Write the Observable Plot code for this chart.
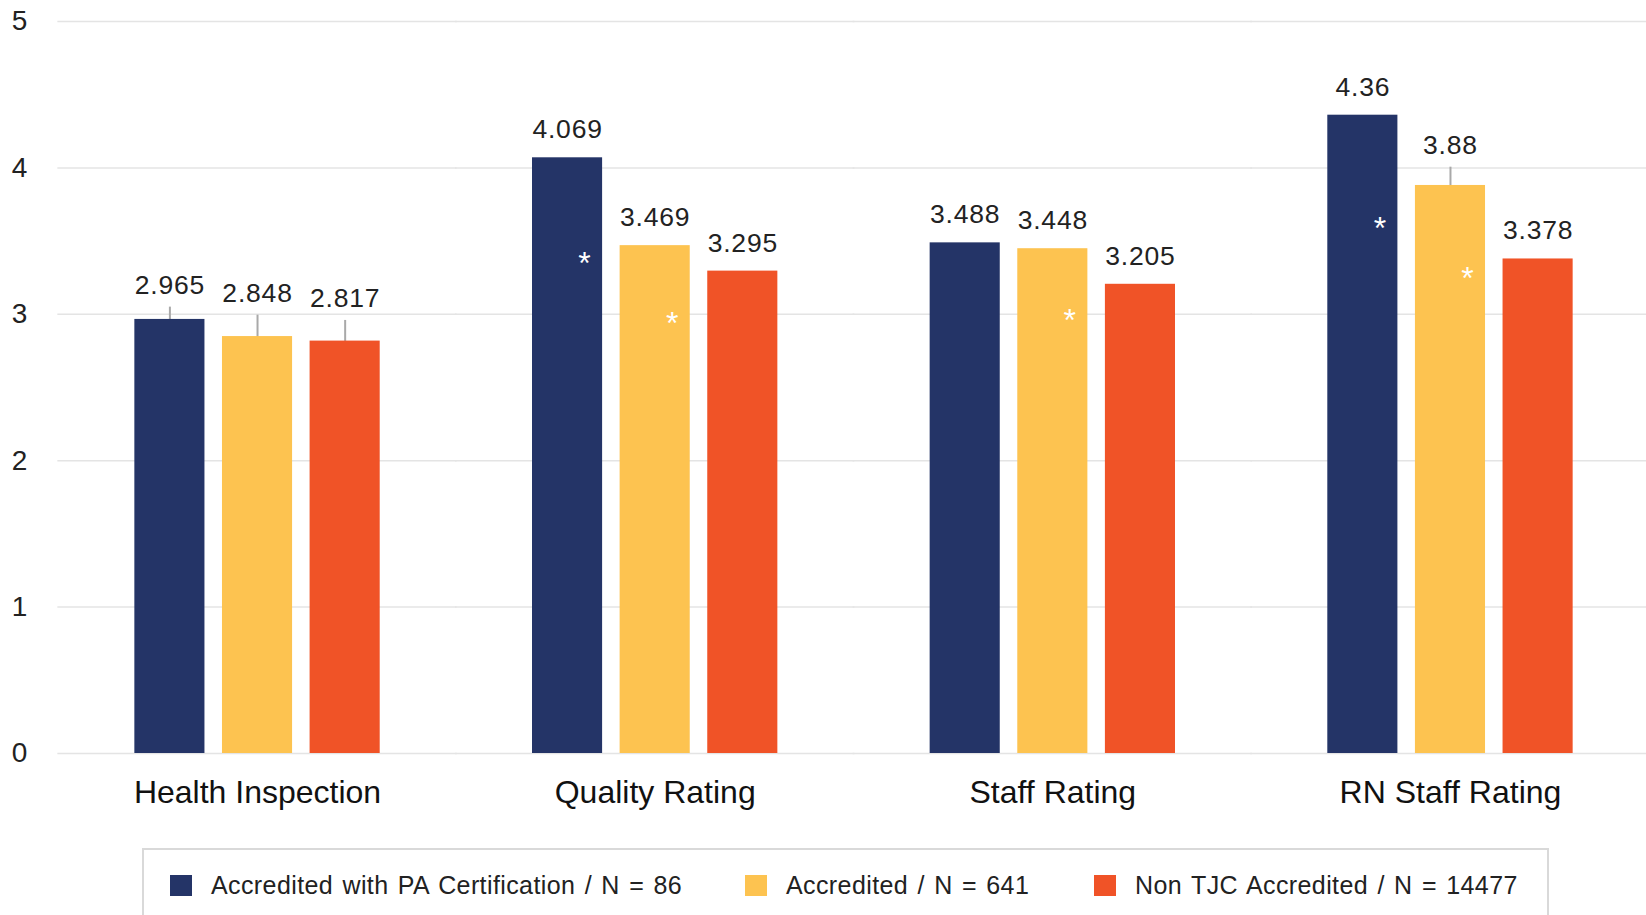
<!DOCTYPE html>
<html><head><meta charset="utf-8">
<script src="https://cdn.jsdelivr.net/npm/d3@7"></script>
<script src="https://cdn.jsdelivr.net/npm/@observablehq/plot@0.6"></script>
<style>
body{margin:0;background:#fff;font-family:"Liberation Sans",Arial,sans-serif;overflow:hidden;}
#chart{position:absolute;left:0;top:0;}
#legend{position:absolute;left:142px;top:848px;width:1407px;height:100px;border:2px solid #d9d9d9;box-sizing:border-box;}
.item{position:absolute;top:20px;height:30px;display:flex;align-items:center;font-size:25px;color:#222;letter-spacing:0.4px;word-spacing:2px;white-space:nowrap;}
.sw{width:22px;height:21px;margin-right:19px;flex:none;}
</style></head><body>
<div id="chart"></div>
<div id="legend"></div>
<script>
const categories = ["Health Inspection", "Quality Rating", "Staff Rating", "RN Staff Rating"];
const groups = ["Accredited with PA Certification / N = 86", "Accredited / N = 641", "Non TJC Accredited / N = 14477"];
const colors = ["#243467", "#fdc350", "#f05327"];
const paValues = [2.965, 4.069, 3.488, 4.36];
const accValues = [2.848, 3.469, 3.448, 3.88];
const nonValues = [2.817, 3.295, 3.205, 3.378];
const paErr = [0.084, 0, 0, 0];
const accErr = [0.146, 0, 0, 0.125];
const nonErr = [0.141, 0, 0, 0];
const paStar = [null, 3.38, null, 3.62];
const accStar = [null, 2.97, 2.99, 3.28];
const nonStar = [null, null, null, null];
const yTicks = [0, 1, 2, 3, 4, 5];

const values = [paValues, accValues, nonValues];
const errs = [paErr, accErr, nonErr];
const stars = [paStar, accStar, nonStar];
const rows = [];
categories.forEach((c, i) => groups.forEach((g, j) => rows.push({
  category: c, group: g, value: values[j][i], err: errs[j][i], star: stars[j][i]
})));
const errRows = rows.filter(d => d.err > 0);
const noErrRows = rows.filter(d => d.err === 0);
const starRows = rows.filter(d => d.star != null);

const textFont = "Liberation Sans, Arial, sans-serif";

const chart = Plot.plot({
  width: 1646, height: 830,
  marginLeft: 58, marginRight: -3, marginTop: 21, marginBottom: 77,
  style: {fontFamily: textFont, background: "#fff", color: "#222", overflow: "visible"},
  fx: {domain: categories, paddingInner: 0.383, paddingOuter: 0.192, round: false, axis: null, label: null},
  x: {domain: groups, paddingInner: 0.2, paddingOuter: 0, round: false, axis: null, label: null},
  y: {domain: [0, 5], axis: null, label: null},
  color: {domain: groups, range: colors},
  marks: [
    Plot.ruleY(yTicks, {y: d => d, stroke: "#e4e4e4", strokeWidth: 1.5, insetLeft: -77, insetRight: -77}),
    Plot.axisY({ticks: yTicks, tickSize: 0, tickPadding: 123, textAnchor: "start", fontSize: 28, fill: "#222", tickFormat: d => String(d), label: null}),
    Plot.axisFx({anchor: "bottom", tickSize: 0, tickPadding: 27, fontSize: 32, fill: "#111", label: null}),
    Plot.ruleX(errRows, {fx: "category", x: "group", y1: d => d.value - d.err, y2: d => d.value + d.err, stroke: "#a9a9a9", strokeWidth: 2}),
    Plot.barY(rows, {fx: "category", x: "group", y: "value", fill: "group"}),
    Plot.text(errRows, {fx: "category", x: "group", y: d => d.value + d.err, text: d => String(d.value), dy: -22, fontSize: 26.5, fill: "#222", lineAnchor: "middle"}),
    Plot.text(noErrRows, {fx: "category", x: "group", y: "value", text: d => String(d.value), dy: -28, fontSize: 26.5, fill: "#222", lineAnchor: "middle"}),
    Plot.text(starRows, {fx: "category", x: "group", y: "star", text: () => "*", dx: 17, dy: 5, fontSize: 32, fill: "#fff", lineAnchor: "middle"})
  ]
});
document.getElementById("chart").appendChild(chart);
chart.querySelectorAll("text").forEach(t => { if (t.textContent.includes(".")) t.style.letterSpacing = "0.8px"; });

const legend = document.getElementById("legend");
const itemLeft = [26, 601, 950];
groups.forEach((g, i) => {
  const item = document.createElement("div");
  item.className = "item";
  item.style.left = itemLeft[i] + "px";
  const sw = document.createElement("span");
  sw.className = "sw";
  sw.style.background = colors[i];
  const label = document.createElement("span");
  label.textContent = g;
  item.appendChild(sw);
  item.appendChild(label);
  legend.appendChild(item);
});
</script>
</body></html>
